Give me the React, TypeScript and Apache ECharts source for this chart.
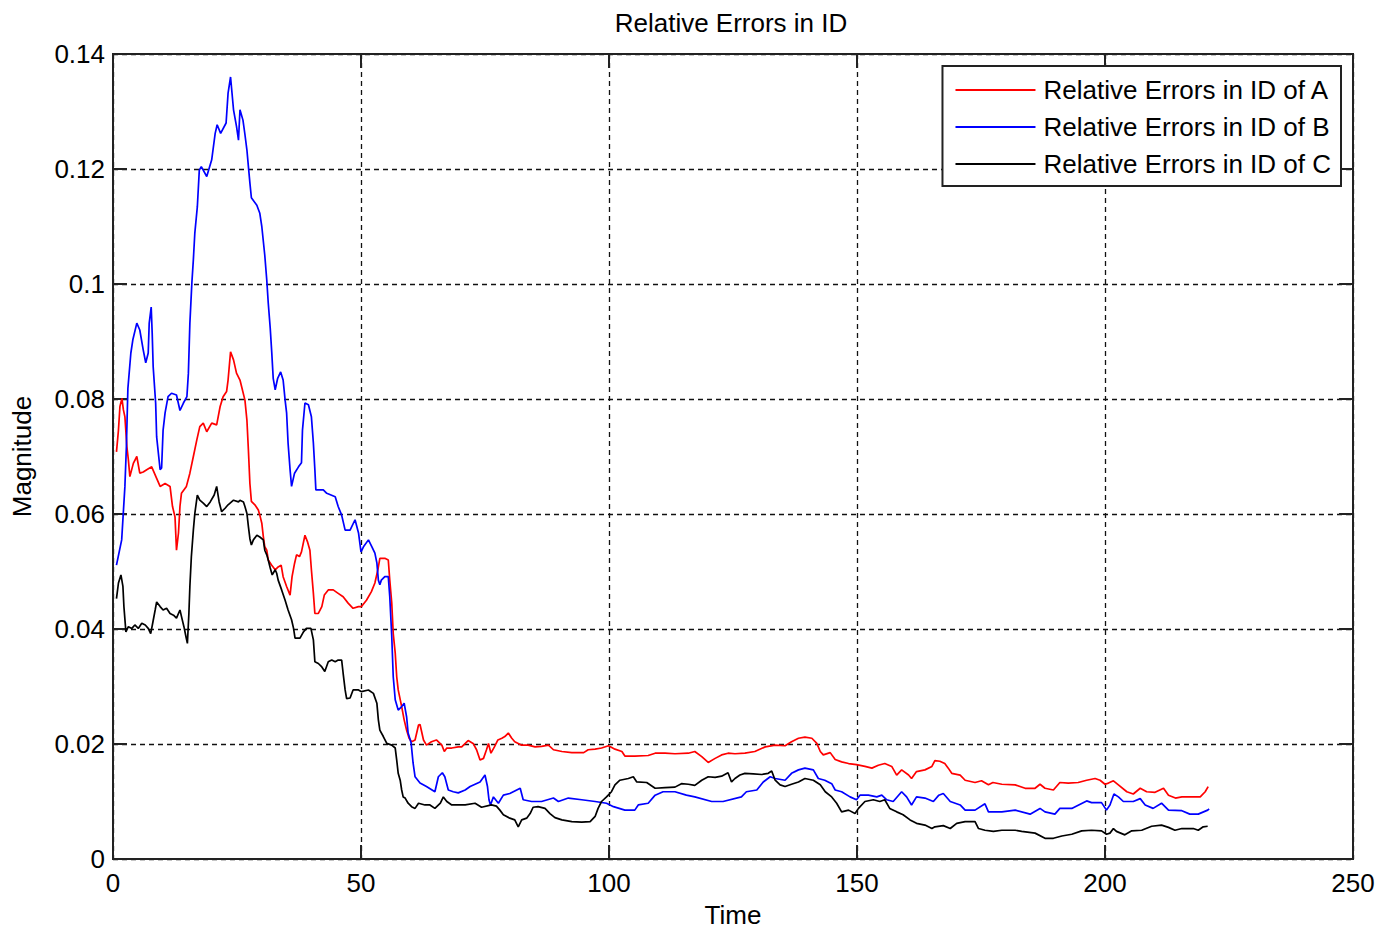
import React, { useEffect, useRef } from "react";
import * as echarts from "echarts";

const titleText = "Relative Errors in ID";
const xName = "Time";
const yName = "Magnitude";
const seriesNames = ["Relative Errors in ID of A", "Relative Errors in ID of B", "Relative Errors in ID of C"];
const seriesColors = ["#ff0000", "#0000ff", "#000000"];

const timeA = [0.7,1.1,1.4,1.8,2.1,2.4,2.8,3.1,3.4,4.1,4.8,5.4,6.1,6.8,7.8,8.8,9.5,10.5,11.5,12.0,12.5,12.8,13.2,13.5,13.8,14.8,15.5,16.2,16.9,17.5,18.2,18.9,19.9,20.9,21.6,22.2,22.9,23.2,23.7,24.3,24.9,25.6,26.6,27.0,27.3,27.6,27.9,28.6,29.3,29.6,30.0,30.3,30.6,31.0,31.3,32.0,32.7,33.3,33.9,34.3,35.0,35.7,36.1,36.6,37.0,37.6,38.0,38.7,39.2,39.7,40.0,40.4,40.7,41.4,42.1,42.6,43.4,44.4,45.4,46.4,47.4,48.4,49.5,50.1,51.1,52.1,52.8,53.4,53.8,54.8,55.5,55.8,56.2,56.5,56.9,57.2,57.5,58.2,58.7,59.2,59.7,60.2,60.9,61.6,61.9,62.6,63.2,64.2,65.2,66.3,66.8,67.3,68.3,69.6,70.3,71.6,72.6,73.3,74.0,74.7,75.3,75.7,76.2,76.9,77.6,78.4,79.0,79.7,80.4,81.0,82.4,83.7,85.1,86.4,87.8,88.8,90.5,92.5,94.9,95.8,97.2,98.5,99.9,101.2,102.6,103.2,105.2,107.9,109.3,111.3,113.3,116.0,117.3,118.7,120.0,121.4,122.7,124.0,125.4,127.4,129.4,131.5,133.5,135.5,136.8,138.2,139.5,140.9,141.9,142.6,143.2,144.6,145.6,146.9,148.3,149.9,151.6,153.0,154.3,155.6,157.0,158.0,159.0,160.4,161.0,162.0,163.7,165.1,165.7,166.7,167.7,168.4,169.1,170.8,171.8,173.8,175.1,176.5,177.4,179.2,181.9,183.9,185.9,186.9,187.9,189.6,190.9,192.6,194.6,196.3,198.0,199.0,200.0,200.7,201.7,202.7,204.4,205.7,207.1,208.4,210.1,211.8,212.8,214.2,215.5,217.5,219.2,220.2,220.8];
const errA = [0.0708,0.0746,0.0787,0.0801,0.0781,0.0769,0.0717,0.0694,0.0665,0.0688,0.0700,0.0671,0.0673,0.0677,0.0682,0.0662,0.0648,0.0653,0.0648,0.0613,0.0595,0.0537,0.0567,0.0613,0.0636,0.0648,0.0671,0.0700,0.0729,0.0752,0.0758,0.0743,0.0758,0.0755,0.0787,0.0804,0.0813,0.0833,0.0882,0.0868,0.0845,0.0833,0.0798,0.0763,0.0711,0.0653,0.0622,0.0616,0.0607,0.0598,0.0584,0.0561,0.0543,0.0537,0.0520,0.0511,0.0503,0.0508,0.0511,0.0491,0.0474,0.0459,0.0491,0.0514,0.0529,0.0526,0.0534,0.0563,0.0552,0.0537,0.0503,0.0462,0.0427,0.0427,0.0439,0.0459,0.0468,0.0468,0.0462,0.0456,0.0445,0.0436,0.0439,0.0439,0.0450,0.0465,0.0480,0.0503,0.0523,0.0523,0.0520,0.0485,0.0445,0.0392,0.0358,0.0317,0.0294,0.0265,0.0242,0.0224,0.0210,0.0204,0.0207,0.0233,0.0234,0.0207,0.0198,0.0204,0.0207,0.0198,0.0187,0.0193,0.0193,0.0195,0.0195,0.0206,0.0201,0.0190,0.0172,0.0175,0.0190,0.0201,0.0184,0.0195,0.0207,0.0210,0.0213,0.0219,0.0210,0.0204,0.0198,0.0198,0.0195,0.0196,0.0198,0.0190,0.0187,0.0185,0.0185,0.0190,0.0191,0.0193,0.0197,0.0191,0.0187,0.0179,0.0179,0.0180,0.0184,0.0184,0.0183,0.0184,0.0187,0.0178,0.0168,0.0175,0.0181,0.0184,0.0183,0.0184,0.0187,0.0195,0.0198,0.0197,0.0204,0.0210,0.0212,0.0210,0.0201,0.0187,0.0181,0.0185,0.0173,0.0169,0.0166,0.0164,0.0161,0.0158,0.0163,0.0166,0.0161,0.0146,0.0155,0.0146,0.0140,0.0152,0.0155,0.0161,0.0171,0.0170,0.0166,0.0158,0.0149,0.0146,0.0137,0.0133,0.0136,0.0129,0.0133,0.0130,0.0129,0.0123,0.0123,0.0130,0.0123,0.0120,0.0133,0.0132,0.0133,0.0137,0.0140,0.0137,0.0130,0.0132,0.0136,0.0129,0.0117,0.0113,0.0123,0.0117,0.0116,0.0123,0.0111,0.0106,0.0108,0.0108,0.0108,0.0117,0.0126];

const timeB = [0.7,1.75,2.4,2.7,3.0,3.6,4.0,4.8,5.4,6.1,6.6,7.1,7.3,7.7,7.9,8.1,8.6,8.8,9.5,9.8,10.1,10.5,11.1,11.8,12.8,13.5,14.2,14.9,15.2,15.5,15.9,16.2,16.5,17.0,17.4,17.8,18.9,19.9,20.6,21.0,21.7,22.8,23.2,23.7,24.3,24.9,25.3,25.6,26.2,26.6,27.0,27.3,27.6,27.9,29.0,29.6,30.0,30.6,31.0,31.3,31.7,32.0,32.3,32.7,33.2,33.8,34.3,34.7,35.0,35.3,35.7,36.0,36.6,37.4,38.0,38.2,38.7,39.4,40.0,40.4,40.7,40.9,42.4,43.1,44.8,45.4,46.1,46.8,47.8,48.8,49.5,50.0,50.5,51.5,52.2,52.8,53.2,53.5,53.8,54.1,54.8,55.5,55.8,56.2,56.5,56.9,57.5,58.2,58.7,59.2,59.5,60.1,60.5,60.9,61.9,63.2,64.9,65.6,66.4,66.9,67.6,68.6,69.6,71.0,72.0,74.0,75.0,75.5,75.8,76.1,76.7,77.7,78.7,80.0,81.4,82.1,82.7,84.4,86.4,88.8,89.8,91.8,94.5,97.2,99.5,100.9,103.2,105.2,105.9,107.9,109.3,110.9,113.3,115.6,117.3,120.7,123.0,126.7,127.7,129.8,131.1,132.5,133.5,135.5,136.8,138.2,139.5,141.2,142.2,143.5,144.9,145.6,146.9,148.6,149.9,150.6,152.3,154.0,155.0,156.0,157.3,159.0,160.0,161.0,162.0,163.7,165.4,166.5,167.4,168.8,170.8,171.8,173.8,175.8,176.5,179.2,181.9,184.9,186.9,187.9,189.9,190.9,193.3,196.3,197.3,199.3,200.3,201.0,201.8,202.7,203.7,205.7,207.1,208.1,209.7,211.4,212.8,215.5,217.1,218.8,220.7,221.0];
const errB = [0.0511,0.0555,0.0648,0.0717,0.0818,0.0880,0.0903,0.0932,0.0920,0.0885,0.0863,0.0880,0.0932,0.0960,0.0915,0.0856,0.0793,0.0734,0.0677,0.0680,0.0746,0.0776,0.0804,0.0810,0.0807,0.0780,0.0793,0.0804,0.0845,0.0932,0.1002,0.1042,0.1089,0.1134,0.1198,0.1204,0.1187,0.1216,0.1262,0.1277,0.1262,0.1280,0.1332,0.1360,0.1303,0.1274,0.1250,0.1303,0.1285,0.1260,0.1233,0.1204,0.1176,0.1150,0.1137,0.1123,0.1100,0.1050,0.1007,0.0967,0.0923,0.0882,0.0836,0.0816,0.0836,0.0847,0.0833,0.0798,0.0776,0.0723,0.0677,0.0648,0.0671,0.0682,0.0689,0.0746,0.0793,0.0790,0.0769,0.0723,0.0677,0.0642,0.0642,0.0636,0.0630,0.0613,0.0598,0.0572,0.0572,0.0590,0.0567,0.0534,0.0543,0.0555,0.0543,0.0532,0.0515,0.0485,0.0477,0.0485,0.0491,0.0491,0.0456,0.0387,0.0317,0.0277,0.0259,0.0265,0.0271,0.0247,0.0219,0.0202,0.0167,0.0143,0.0132,0.0126,0.0117,0.0143,0.0150,0.0143,0.0120,0.0117,0.0115,0.0120,0.0126,0.0134,0.0146,0.0126,0.0103,0.0094,0.0108,0.0097,0.0111,0.0114,0.0120,0.0123,0.0103,0.0100,0.0100,0.0106,0.0100,0.0106,0.0103,0.0100,0.0097,0.0091,0.0085,0.0085,0.0094,0.0097,0.0111,0.0117,0.0117,0.0111,0.0108,0.0100,0.0100,0.0108,0.0117,0.0120,0.0134,0.0143,0.0140,0.0137,0.0149,0.0155,0.0158,0.0155,0.0140,0.0137,0.0131,0.0120,0.0117,0.0108,0.0103,0.0111,0.0111,0.0108,0.0111,0.0103,0.0100,0.0117,0.0108,0.0094,0.0108,0.0106,0.0100,0.0111,0.0114,0.0100,0.0094,0.0085,0.0085,0.0096,0.0082,0.0082,0.0085,0.0078,0.0088,0.0082,0.0078,0.0088,0.0088,0.0101,0.0098,0.0098,0.0085,0.0094,0.0113,0.0108,0.0100,0.0100,0.0105,0.0094,0.0088,0.0097,0.0085,0.0084,0.0078,0.0078,0.0085,0.0087];

const timeC = [0.7,1.1,1.6,2.0,2.2,2.6,3.1,3.8,4.4,5.1,5.8,6.5,7.1,7.6,8.0,8.5,8.8,9.5,10.1,10.8,11.5,12.2,12.8,13.5,13.8,14.3,14.7,15.0,15.3,15.5,15.8,16.2,16.5,17.0,17.5,18.2,18.9,19.6,20.4,20.9,21.4,21.9,22.6,23.2,24.3,25.3,25.6,26.3,26.6,27.0,27.3,27.6,27.9,28.3,29.0,29.6,30.3,30.6,31.0,31.3,31.7,32.1,32.7,33.0,33.3,34.0,34.7,35.3,36.0,36.4,36.7,37.7,38.4,39.0,39.9,40.4,40.7,41.4,42.1,42.7,43.4,44.1,44.8,45.4,46.1,46.4,46.8,47.1,47.8,48.4,49.5,50.1,51.5,52.5,53.2,53.5,53.8,54.5,55.2,56.2,56.9,57.2,57.5,57.9,58.2,58.5,58.9,59.5,60.2,60.9,61.6,62.9,63.9,64.9,66.0,66.6,67.3,68.3,69.3,71.0,73.0,74.3,76.3,77.3,78.0,78.7,80.0,81.0,81.7,82.4,83.4,84.1,84.7,85.7,87.1,88.1,89.1,90.5,92.5,94.5,96.2,97.2,97.8,98.5,99.5,100.5,101.2,102.2,103.9,104.9,105.6,107.6,109.3,111.3,113.3,114.6,116.0,117.3,118.7,120.0,121.4,122.7,124.0,124.7,125.4,126.4,127.4,129.1,130.8,132.1,132.8,133.5,134.5,135.5,136.8,138.2,139.5,141.2,142.6,143.6,144.9,145.9,146.9,148.3,149.6,150.3,151.6,153.3,154.6,155.6,156.6,158.0,159.3,160.7,162.0,163.7,165.1,165.7,167.4,168.8,170.1,171.8,173.8,174.5,175.8,177.5,179.2,181.9,183.2,185.9,187.9,189.6,191.3,193.3,195.3,197.3,199.3,200.3,201.0,201.7,202.3,204.0,205.4,207.4,209.4,211.4,212.8,214.1,215.5,217.8,218.8,219.8,220.7];
const errC = [0.0453,0.0480,0.0494,0.0474,0.0439,0.0395,0.0404,0.0401,0.0407,0.0401,0.0410,0.0407,0.0401,0.0392,0.0410,0.0433,0.0447,0.0439,0.0433,0.0436,0.0427,0.0424,0.0419,0.0433,0.0422,0.0404,0.0387,0.0375,0.0427,0.0474,0.0526,0.0572,0.0601,0.0633,0.0624,0.0619,0.0613,0.0621,0.0633,0.0648,0.0621,0.0604,0.0610,0.0616,0.0624,0.0621,0.0624,0.0621,0.0613,0.0601,0.0578,0.0557,0.0546,0.0555,0.0563,0.0560,0.0555,0.0537,0.0529,0.0520,0.0506,0.0494,0.0503,0.0497,0.0485,0.0468,0.0450,0.0433,0.0416,0.0401,0.0384,0.0384,0.0395,0.0401,0.0401,0.0381,0.0343,0.0340,0.0334,0.0326,0.0343,0.0346,0.0343,0.0346,0.0346,0.0323,0.0294,0.0279,0.0280,0.0294,0.0294,0.0291,0.0294,0.0288,0.0271,0.0242,0.0224,0.0213,0.0201,0.0198,0.0193,0.0172,0.0149,0.0137,0.0120,0.0108,0.0106,0.0097,0.0091,0.0088,0.0097,0.0094,0.0094,0.0088,0.0097,0.0108,0.0100,0.0094,0.0094,0.0094,0.0097,0.0090,0.0094,0.0092,0.0085,0.0077,0.0071,0.0068,0.0056,0.0068,0.0071,0.0079,0.0090,0.0091,0.0088,0.0079,0.0072,0.0068,0.0065,0.0064,0.0065,0.0074,0.0088,0.0100,0.0108,0.0117,0.0129,0.0137,0.0140,0.0143,0.0134,0.0133,0.0123,0.0124,0.0125,0.0131,0.0130,0.0128,0.0137,0.0143,0.0142,0.0144,0.0150,0.0134,0.0140,0.0146,0.0149,0.0148,0.0147,0.0149,0.0153,0.0137,0.0129,0.0126,0.0130,0.0134,0.0140,0.0137,0.0129,0.0117,0.0108,0.0097,0.0082,0.0085,0.0079,0.0088,0.0100,0.0103,0.0100,0.0103,0.0088,0.0082,0.0077,0.0068,0.0062,0.0059,0.0053,0.0056,0.0058,0.0053,0.0062,0.0065,0.0065,0.0053,0.0050,0.0048,0.0050,0.0050,0.0048,0.0045,0.0036,0.0036,0.0040,0.0043,0.0049,0.0050,0.0049,0.0043,0.0045,0.0053,0.0048,0.0042,0.0049,0.0050,0.0057,0.0059,0.0055,0.0050,0.0053,0.0053,0.0050,0.0056,0.0057];

const xMin = 0, xMax = 250, xStep = 50;
const yMin = 0, yMax = 0.14, yStep = 0.02;

const FONT = "'Liberation Sans', Arial, sans-serif";
const FS = 26;

function pairs(t: number[], v: number[]) {
  return t.map((x, i) => [x, v[i]]);
}

export default function App() {
  const ref = useRef<HTMLDivElement>(null);
  useEffect(() => {
    if (!ref.current) return;
    const chart = echarts.init(ref.current, null, { renderer: "svg" });
    const gridLine = { show: true, lineStyle: { color: "#111", width: 1.3, type: [5, 4] as any } };
    const tickIn = { show: true, inside: true, length: 14, lineStyle: { color: "#222", width: 2 } };
    const datasets = [pairs(timeA, errA), pairs(timeB, errB), pairs(timeC, errC)];
    chart.setOption({
      animation: false,
      backgroundColor: "#ffffff",
      textStyle: { fontFamily: FONT },
      graphic: [
        {
          type: "text",
          x: 731,
          y: 23,
          style: { text: titleText, align: "center", verticalAlign: "middle", font: `${FS}px ${FONT}`, fill: "#000" },
        },
      ],
      grid: {
        left: 113,
        right: 37,
        top: 54,
        bottom: 71,
        containLabel: false,
        outerBoundsMode: "none",
        show: true,
        borderColor: "#222",
        borderWidth: 2,
        backgroundColor: "#fff",
      },
      legend: {
        orient: "vertical",
        right: 49,
        top: 66,
        backgroundColor: "#fff",
        borderColor: "#222",
        borderWidth: 2,
        borderRadius: 0,
        padding: [10, 10, 8, 13],
        icon: "rect",
        itemWidth: 80,
        itemHeight: 2,
        itemGap: 9,
        data: seriesNames,
        textStyle: { fontFamily: FONT, fontSize: FS, color: "#000", lineHeight: 28, padding: [0, 0, 0, 3] },
      },
      xAxis: [
        {
          type: "value",
          min: xMin,
          max: xMax,
          interval: xStep,
          name: xName,
          nameLocation: "middle",
          nameGap: 43,
          nameTextStyle: { fontFamily: FONT, fontSize: FS, color: "#000", lineHeight: 26 },
          axisLine: { show: true, onZero: false, lineStyle: { color: "#222", width: 2 } },
          axisTick: tickIn,
          axisLabel: { fontFamily: FONT, fontSize: FS, color: "#000", margin: 11 },
          splitLine: gridLine,
        },
        {
          type: "value",
          position: "top",
          min: xMin,
          max: xMax,
          interval: xStep,
          axisLine: { show: true, onZero: false, lineStyle: { color: "#222", width: 2 } },
          axisTick: tickIn,
          axisLabel: { show: false },
          splitLine: { show: false },
        },
      ],
      yAxis: [
        {
          type: "value",
          min: yMin,
          max: yMax,
          interval: yStep,
          name: yName,
          nameLocation: "middle",
          nameGap: 78,
          nameTextStyle: { fontFamily: FONT, fontSize: FS, color: "#000" },
          axisLine: { show: true, onZero: false, lineStyle: { color: "#222", width: 2 } },
          axisTick: tickIn,
          axisLabel: { fontFamily: FONT, fontSize: FS, color: "#000", margin: 8 },
          splitLine: gridLine,
        },
        {
          type: "value",
          position: "right",
          min: yMin,
          max: yMax,
          interval: yStep,
          axisLine: { show: true, onZero: false, lineStyle: { color: "#222", width: 2 } },
          axisTick: tickIn,
          axisLabel: { show: false },
          splitLine: { show: false },
        },
      ],
      series: datasets.map((d, i) => ({
        type: "line",
        name: seriesNames[i],
        data: d,
        xAxisIndex: 0,
        yAxisIndex: 0,
        symbol: "none",
        showSymbol: false,
        lineStyle: { color: seriesColors[i], width: 1.7 },
        itemStyle: { color: seriesColors[i] },
        emphasis: { disabled: true },
      })),
    });
    return () => chart.dispose();
  }, []);
  return <div ref={ref} style={{ position: "absolute", left: 0, top: 0, width: 1390, height: 930 }} />;
}
